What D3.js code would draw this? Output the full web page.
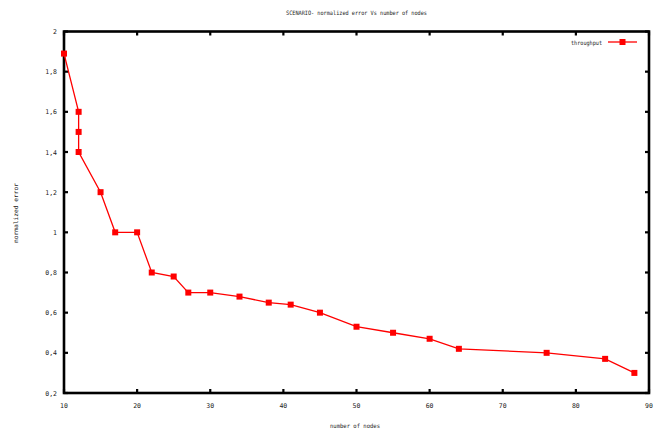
<!DOCTYPE html>
<html>
<head>
<meta charset="utf-8">
<script src="https://cdn.jsdelivr.net/npm/d3@7"></script>
<style>
  html, body { margin: 0; padding: 0; background: #fff; }
  svg { display: block; }
  text { font-family: "DejaVu Sans Mono", monospace; fill: #222; }
</style>
</head>
<body>
<svg id="chart" width="659" height="432"></svg>
<script>
const nodes = [10, 12, 12, 12, 15, 17, 20, 22, 25, 27, 30, 34, 38, 41, 45, 50, 55, 60, 64, 76, 84, 88];
const errorValues = [1.89, 1.6, 1.5, 1.4, 1.2, 1.0, 1.0, 0.8, 0.78, 0.7, 0.7, 0.68, 0.65, 0.64, 0.6, 0.53, 0.5, 0.47, 0.42, 0.4, 0.37, 0.3];
const xTicks = [10, 20, 30, 40, 50, 60, 70, 80, 90];
const xTickLabels = ["10", "20", "30", "40", "50", "60", "70", "80", "90"];
const yTicks = [0.2, 0.4, 0.6, 0.8, 1.0, 1.2, 1.4, 1.6, 1.8, 2.0];
const yTickLabels = ["0,2", "0,4", "0,6", "0,8", "1", "1,2", "1,4", "1,6", "1,8", "2"];
const seriesName = "throughput";
const titleText = "SCENARIO- normalized error Vs number of nodes";
const xLabelText = "number of nodes";
const yLabelText = "normalized error";

(function () {
const svg = d3.select("#chart");
const pL = 64, pR = 649, pT = 31.5, pB = 393;
const x = d3.scaleLinear().domain([10, 90]).range([pL, pR]);
const y = d3.scaleLinear().domain([0.2, 2]).range([pB, pT]);

// ticks (inward, on all four sides)
const tl = 4;
const g = svg.append("g");
xTicks.forEach(t => {
  g.append("line").attr("x1", x(t)).attr("x2", x(t)).attr("y1", pB).attr("y2", pB - tl)
    .attr("stroke", "#000").attr("stroke-width", 2.2);
  g.append("line").attr("x1", x(t)).attr("x2", x(t)).attr("y1", pT).attr("y2", pT + tl)
    .attr("stroke", "#000").attr("stroke-width", 2.2);
});
yTicks.forEach(t => {
  g.append("line").attr("x1", pL).attr("x2", pL + tl).attr("y1", y(t)).attr("y2", y(t))
    .attr("stroke", "#000").attr("stroke-width", 2.2);
  g.append("line").attr("x1", pR).attr("x2", pR - tl).attr("y1", y(t)).attr("y2", y(t))
    .attr("stroke", "#000").attr("stroke-width", 2.2);
});

// frame
svg.append("rect").attr("x", pL).attr("y", pT).attr("width", pR - pL).attr("height", pB - pT)
  .attr("fill", "none").attr("stroke", "#000").attr("stroke-width", 2.6);

// tick labels
xTicks.forEach((t, i) => {
  svg.append("text").attr("x", x(t)).attr("y", 408).attr("text-anchor", "middle")
    .attr("font-size", 6.5).text(xTickLabels[i]);
});
yTicks.forEach((t, i) => {
  svg.append("text").attr("x", 57).attr("y", y(t) + 2.5).attr("text-anchor", "end")
    .attr("font-size", 6.5).text(yTickLabels[i]);
});

// title & axis labels
svg.append("text").attr("x", 356.5).attr("y", 15).attr("text-anchor", "middle")
  .attr("font-size", 6).attr("textLength", 141).attr("lengthAdjust", "spacingAndGlyphs").text(titleText);
svg.append("text").attr("x", 355).attr("y", 428).attr("text-anchor", "middle")
  .attr("font-size", 6).attr("textLength", 50).attr("lengthAdjust", "spacingAndGlyphs").text(xLabelText);
svg.append("text").attr("transform", "translate(18,213) rotate(-90)").attr("text-anchor", "middle")
  .attr("font-size", 6).attr("textLength", 60).attr("lengthAdjust", "spacingAndGlyphs").text(yLabelText);

// series
const data = nodes.map((n, i) => ({ x: n, y: errorValues[i] }));
const line = d3.line().x(d => x(d.x)).y(d => y(d.y));
svg.append("path").datum(data).attr("d", line).attr("fill", "none")
  .attr("stroke", "#ff0000").attr("stroke-width", 1.3);
const ms = 6;
svg.selectAll("rect.pt").data(data).enter().append("rect").attr("class", "pt")
  .attr("x", d => x(d.x) - ms / 2).attr("y", d => y(d.y) - ms / 2)
  .attr("width", ms).attr("height", ms).attr("fill", "#ff0000");

// legend
svg.append("text").attr("x", 602).attr("y", 44.5).attr("text-anchor", "end")
  .attr("font-size", 6).attr("textLength", 31).attr("lengthAdjust", "spacingAndGlyphs").text(seriesName);
svg.append("line").attr("x1", 608).attr("x2", 637).attr("y1", 42).attr("y2", 42)
  .attr("stroke", "#ff0000").attr("stroke-width", 1.3);
svg.append("rect").attr("x", 622.5 - ms / 2).attr("y", 42 - ms / 2).attr("width", ms).attr("height", ms)
  .attr("fill", "#ff0000");
})();
</script>
</body>
</html>
